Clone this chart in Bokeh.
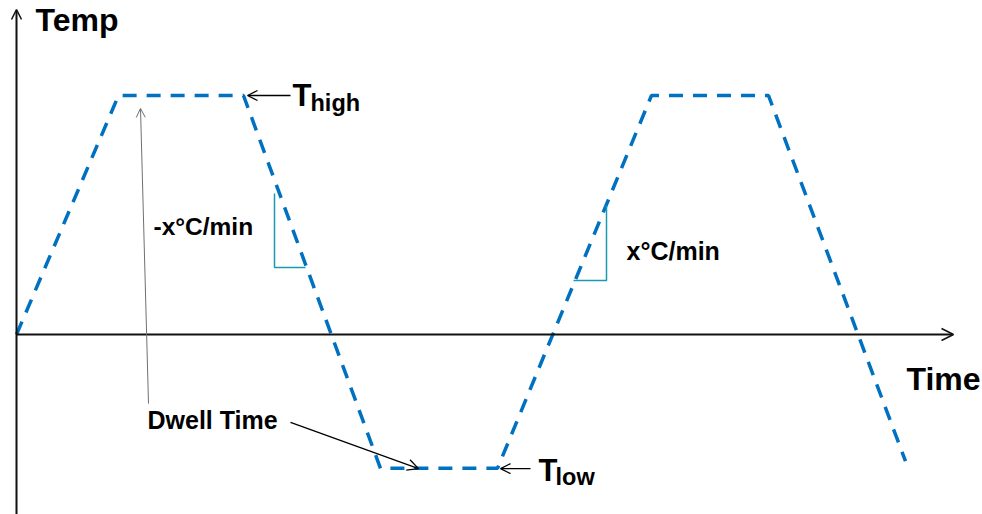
from bokeh.plotting import figure
from bokeh.models import Range1d, Arrow, OpenHead, Label, ColumnDataSource
from bokeh.embed import file_html
from bokeh.resources import INLINE

# Schematic thermal-cycle profile (time in arbitrary minutes, temp in % of T_high)
time = [0, 10.2, 22.7, 36.4, 48.1, 63.5, 75.2, 88.9]
temp = [0, 100, 100, -56, -56, 100, 100, -53]

FONT = "Liberation Sans"
DY = 4.4  # baseline correction (temp units)

p = figure(width=982, height=514, output_backend="svg", toolbar_location=None,
           x_range=Range1d(-1.6, 96.6), y_range=Range1d(-75.3, 139.75),
           min_border=0, background_fill_color="white", border_fill_color="white")
p.axis.visible = False
p.grid.visible = False
p.outline_line_color = None

src = ColumnDataSource(dict(t=time, T=temp))
p.line("t", "T", source=src, line_color="#0070C0", line_width=3.5, line_dash="14 10")

# Axes with arrowheads
p.add_layout(Arrow(end=OpenHead(size=10, line_color="#111111", line_width=1.5),
                   x_start=0, y_start=-76, x_end=0, y_end=136.0,
                   line_color="#111111", line_width=2))
p.add_layout(Arrow(end=OpenHead(size=12, line_color="#111111", line_width=1.5),
                   x_start=0, y_start=0, x_end=93.7, y_end=0,
                   line_color="#111111", line_width=2))

def lab(x, y, txt, size):
    p.add_layout(Label(x=x, y=y + DY, text=txt, text_font=FONT, text_font_style="bold",
                       text_font_size=size, text_color="black",
                       text_baseline="alphabetic", text_align="left"))

lab(1.9, 127.2, "Temp", "32px")
lab(89.0, -23.0, "Time", "32px")

# T_high
p.add_layout(Arrow(end=OpenHead(size=10, line_color="black", line_width=1.3),
                   x_start=27.4, y_start=100, x_end=23.1, y_end=100,
                   line_color="black", line_width=1.3))
lab(27.6, 95.8, "T", "31px")
lab(29.4, 92.5, "high", "23.5px")

# T_low
p.add_layout(Arrow(end=OpenHead(size=10, line_color="black", line_width=1.3),
                   x_start=51.4, y_start=-56.1, x_end=48.4, y_end=-56.1,
                   line_color="black", line_width=1.3))
lab(52.2, -61.5, "T", "31px")
lab(53.9, -64.0, "low", "23.5px")

# Slope triangles
teal = "#1A9AB0"
p.line([25.8, 25.8, 28.9], [59.0, 28.0, 28.0], line_color=teal, line_width=1.5)
p.line([59.0, 59.0, 55.7], [54.0, 22.6, 22.6], line_color=teal, line_width=1.5)
lab(13.7, 40.6, "-x°C/min", "24.5px")
lab(61.0, 30.5, "x°C/min", "25px")

# Dwell time
lab(13.1, -40.2, "Dwell Time", "25px")
p.add_layout(Arrow(end=OpenHead(size=9, line_color="#707070", line_width=1),
                   x_start=13.2, y_start=-28.9, x_end=12.4, y_end=94.6,
                   line_color="#707070", line_width=1))
p.add_layout(Arrow(end=OpenHead(size=11, line_color="black", line_width=1.3),
                   x_start=27.4, y_start=-36.8, x_end=40.2, y_end=-56.1,
                   line_color="black", line_width=1.3))

open("out.html", "w").write(file_html(p, INLINE))
